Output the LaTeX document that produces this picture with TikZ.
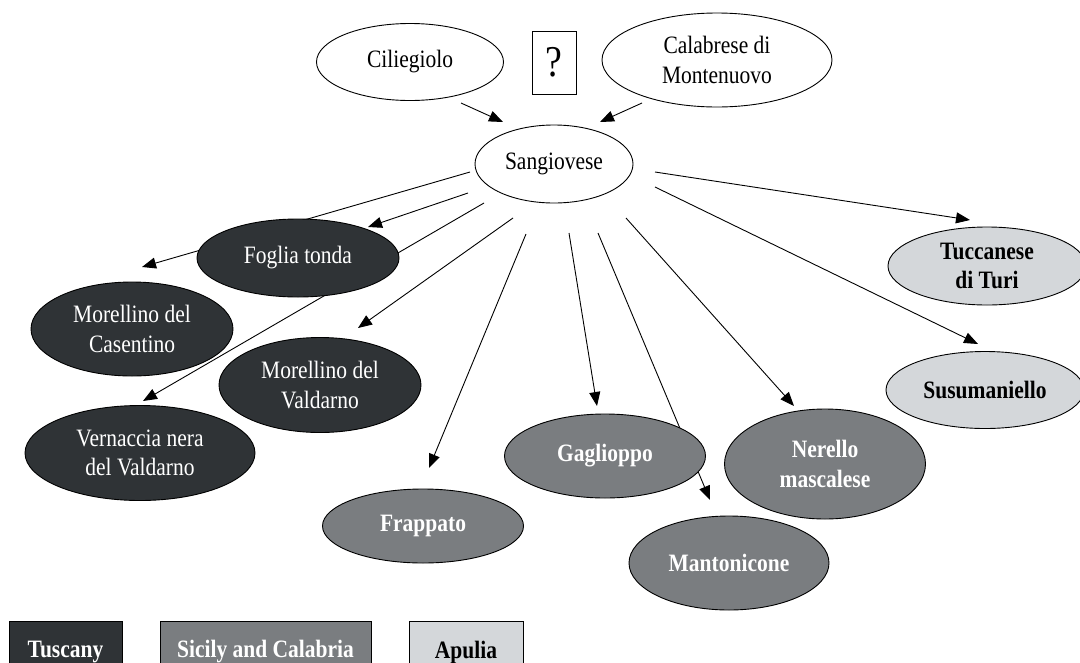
\documentclass[tikz,border=0pt]{standalone}
\usepackage{fontspec}
\setmainfont{Liberation Serif}[FakeStretch=0.86]
\usetikzlibrary{arrows.meta,calc,shapes.geometric,backgrounds}

\definecolor{tuscfill}{HTML}{2F3336}
\definecolor{sicifill}{HTML}{7A7D80}
\definecolor{apulfill}{HTML}{D4D7DA}

\begin{document}
\begin{tikzpicture}[
  x=1pt, y=-1pt,
  font=\fontsize{25}{29.5}\selectfont,
  variety/.style={
    ellipse,
    draw=black,
    line width=0.9pt,
    inner sep=0pt,
    align=center
  },
  origin/.style={variety, fill=white},
  tuscany/.style={variety, fill=tuscfill, text=white},
  sicily/.style={variety, fill=sicifill, text=white, font=\fontsize{25}{29.5}\selectfont\bfseries},
  apulia/.style={variety, fill=apulfill, font=\fontsize{25}{29.5}\selectfont\bfseries},
  legend/.style={rectangle, draw=black, line width=0.9pt, inner sep=0pt, minimum height=62pt, font=\fontsize{25}{29.5}\selectfont\bfseries},
  arrow/.style={-{Triangle[length=14pt,width=11pt]}, line width=0.9pt, draw=black}
]
\useasboundingbox (0,0) rectangle (1080,662);

% parents
\node[origin, minimum width=187pt, minimum height=77pt] (cil) at (410,62) {Ciliegiolo};
\node[draw, line width=0.9pt, minimum width=44pt, minimum height=63pt, inner sep=0pt,
  font=\fontsize{44}{46}\selectfont] (unknown) at (554,62.5) {?};
\node[origin, minimum width=230pt, minimum height=94pt] (cala) at (717,60) {Calabrese di\\Montenuovo};
\node[origin, minimum width=158pt, minimum height=78pt] (sang) at (554,164) {Sangiovese};

% Tuscany
\node[tuscany, minimum width=202pt, minimum height=78pt] (fog) at (298,258) {Foglia tonda};
\node[tuscany, minimum width=202pt, minimum height=94pt] (casen) at (132,329) {Morellino del\\Casentino};
\node[tuscany, minimum width=202pt, minimum height=95pt] (mval) at (320,385) {Morellino del\\Valdarno};
\node[tuscany, minimum width=230pt, minimum height=95pt] (vern) at (140,453) {Vernaccia nera\\del Valdarno};

% Sicily and Calabria
\node[sicily, minimum width=201pt, minimum height=74pt] (frap) at (423,526) {Frappato};
\node[sicily, minimum width=201pt, minimum height=84pt] (gag) at (605,456) {Gaglioppo};
\node[sicily, minimum width=200pt, minimum height=94pt] (mant) at (729,563) {Mantonicone};
\node[sicily, minimum width=201pt, minimum height=110pt] (nere) at (825,464) {Nerello\\mascalese};

% Apulia
\node[apulia, minimum width=198pt, minimum height=78pt] (tucc) at (987,266) {Tuccanese\\di Turi};
\node[apulia, minimum width=198pt, minimum height=77pt] (susu) at (985,390) {Susumaniello};

% legend
\node[legend, fill=tuscfill, text=white, minimum width=113pt] (legtusc) at (65.5,652) {Tuscany};
\node[legend, fill=sicifill, text=white, minimum width=211pt] (legsici) at (265.5,652) {Sicily and Calabria};
\node[legend, fill=apulfill, minimum width=114pt] (legapul) at (466,652) {Apulia};

\begin{pgfonlayer}{background}
\draw[arrow] ($(cil)+(51,41)$) -- ($(sang)+(-51,-42)$);
\draw[arrow] ($(cala)+(-75,43)$) -- ($(sang)+(46,-42)$);

\draw[arrow] ($(sang)+(-84,8)$) -- ($(casen)+(10,-62)$);
\draw[arrow] ($(sang)+(-86,29)$) -- ($(fog)+(70,-31)$);
\draw[arrow] ($(sang)+(-70,39)$) -- ($(vern)+(3,-52)$);
\draw[arrow] ($(sang)+(-41,54)$) -- ($(mval)+(38,-57)$);
\draw[arrow] ($(sang)+(-28,70)$) -- ($(frap)+(6,-58)$);
\draw[arrow] ($(sang)+(15,69)$) -- ($(gag)+(-8,-50)$);
\draw[arrow] ($(sang)+(44,69)$) -- ($(mant)+(-19,-63)$);
\draw[arrow] ($(sang)+(72,54)$) -- ($(nere)+(-31,-58)$);
\draw[arrow] ($(sang)+(101,23)$) -- ($(susu)+(-7,-46)$);
\draw[arrow] ($(sang)+(101,8)$) -- ($(tucc)+(-17,-46)$);
\end{pgfonlayer}

\end{tikzpicture}
\end{document}
